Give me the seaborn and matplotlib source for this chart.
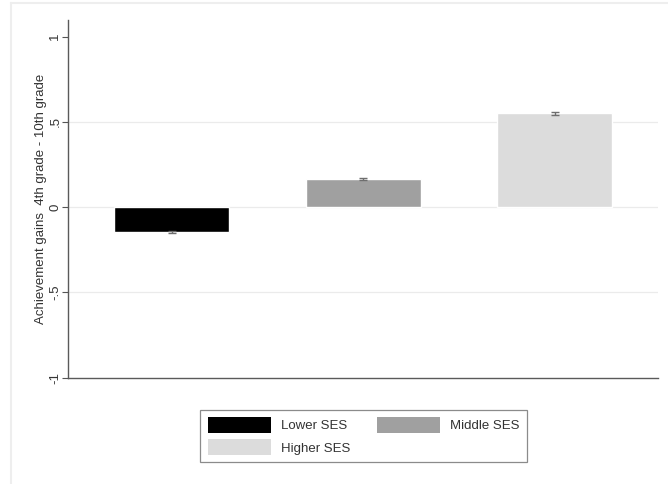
import matplotlib
matplotlib.use("Agg")
import matplotlib.pyplot as plt
from matplotlib.patches import Patch
from matplotlib.lines import Line2D
import seaborn as sns
import pandas as pd

# Achievement gains by socioeconomic status group
groups = ["Lower SES", "Middle SES", "Higher SES"]
gains = [-0.143, 0.164, 0.551]
std_err = [0.006, 0.007, 0.009]
bar_colors = ["#000000", "#a0a0a0", "#dcdcdc"]
ytick_values = [-1, -0.5, 0, 0.5, 1]
ytick_labels = ["-1", "-.5", "0", ".5", "1"]
ylabel = "Achievement gains  4th grade - 10th grade"

sns.set_theme(style="white")
plt.rcParams["font.family"] = ["Liberation Sans", "DejaVu Sans"]

df = pd.DataFrame({"group": groups, "gain": gains})

fig = plt.figure(figsize=(6.68, 4.84), dpi=100)
ax = fig.add_axes([68.3 / 668, 1 - 377.7 / 484, (658 - 68.3) / 668, (377.7 - 20) / 484])

sns.barplot(data=df, x="group", y="gain", hue="group", palette=bar_colors,
            order=groups, hue_order=groups, width=0.6, errorbar=None,
            legend=False, ax=ax, zorder=2)
ax.errorbar(range(len(groups)), gains, yerr=std_err, fmt="none",
            ecolor="#6e6e6e", elinewidth=1.0, capsize=3, capthick=1.0, zorder=3)

ax.set_ylim(-1, 1 + (36.7 - 20) / 170.7)
ax.set_xlim(-0.54, 2.54)

ax.set_yticks(ytick_values)
ax.set_yticklabels(ytick_labels, rotation=90, va="center", fontsize=9.5, color="#333333")
ax.tick_params(axis="y", which="major", left=True, length=4, width=0.8,
               color="#555555", pad=1)
ax.set_xticks([])
ax.set_xlabel("")
ax.set_ylabel(ylabel, fontsize=9.5, color="#333333", labelpad=2)

for y in [-0.5, 0, 0.5]:
    ax.axhline(y, color="#ebebeb", linewidth=0.9, zorder=0)

for side in ["top", "right"]:
    ax.spines[side].set_visible(False)
for side in ["left", "bottom"]:
    ax.spines[side].set_color("#5a5a5a")
    ax.spines[side].set_linewidth(1.0)

# legend laid out row-wise: Lower, Middle / Higher
order = [0, 2, 1]
handles = [Patch(facecolor=bar_colors[i], edgecolor="none") for i in order]
labels = [groups[i] for i in order]
leg = fig.legend(handles, labels, ncol=2, loc="center",
                 bbox_to_anchor=((199 + 528) / 2 / 668, 1 - (409 + 463.3) / 2 / 484),
                 fontsize=9.5, handlelength=4.8, handleheight=1.45, handletextpad=0.75,
                 columnspacing=2.0, labelspacing=0.5, borderpad=0.55,
                 frameon=True, fancybox=False, edgecolor="#6e6e6e")
leg.get_frame().set_linewidth(0.9)
for t in leg.get_texts():
    t.set_color("#333333")

# faint outer frame of the graph region
fig.add_artist(Line2D([10.5 / 668, 10.5 / 668], [0, 1 - 3 / 484], color="#eeeeee",
                      linewidth=1.5, transform=fig.transFigure))
fig.add_artist(Line2D([10.5 / 668, 1], [1 - 3 / 484, 1 - 3 / 484], color="#eeeeee",
                      linewidth=1.5, transform=fig.transFigure))

fig.savefig("out.png", dpi=100)
